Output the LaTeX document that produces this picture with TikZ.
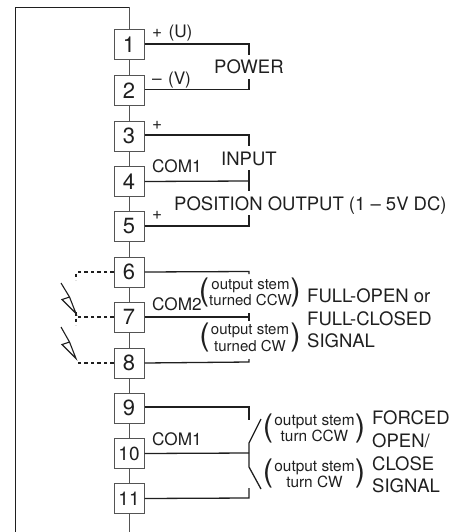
\documentclass[tikz,border=0pt]{standalone}
\usepackage{fontspec}
\setmainfont{TeX Gyre Heros}
\definecolor{boxc}{gray}{0.33}
\definecolor{wirec}{gray}{0.12}
\tikzset{
  x=1pt,y=-1pt,
  term/.style={draw=boxc,line width=1pt,fill=white,minimum width=30pt,minimum height=30pt,inner sep=0pt,font=\fontsize{22}{22}\selectfont,text=wirec},
  termsmall/.style={term,font=\fontsize{19}{19}\selectfont},
  rail/.style={draw=boxc,line width=1pt},
  wire/.style={draw=wirec,line width=1.3pt},
  dashwire/.style={draw=wirec,line width=1.3pt,dash pattern=on 3.5pt off 3pt},
  spark/.style={draw=wirec,line width=1.1pt,line join=miter},
  lab/.style={inner sep=0pt,text=wirec,font=\fontsize{17.2}{17.2}\selectfont,anchor=base west},
  big/.style={lab,font=\fontsize{18.5}{18.5}\selectfont},
  small/.style={inner sep=0pt,text=wirec,align=center,font=\fontsize{15}{16.5}\selectfont},
  smallb/.style={small,font=\fontsize{15.4}{16.5}\selectfont},
  paren/.style={inner sep=0pt,text=wirec,font=\fontsize{31}{31}\selectfont}
}
\begin{document}
\begin{tikzpicture}
\useasboundingbox (0,0) rectangle (459,532);
\coordinate (tl) at (15.5,7.5);
\coordinate (tr) at (129,7.5);
\coordinate (bl) at (15.5,532);
\coordinate (br) at (129,532);
\draw[draw=wirec,line width=.8pt] (bl) -- (tl) -- (tr);
\draw[rail] (tr) -- (br);
% terminals
\node[term] (t1) at (129,45) {1};
\node[term] (t2) at (129,90.5) {2};
\node[term] (t3) at (129,136) {3};
\node[term] (t4) at (129,181.5) {4};
\node[term] (t5) at (129,226.5) {5};
\node[term] (t6) at (129,272) {6};
\node[term] (t7) at (129,317) {7};
\node[term] (t8) at (129,363) {8};
\node[term] (t9) at (129,408) {9};
\node[termsmall] (t10) at (129,453.5) {10};
\node[termsmall] (t11) at (129,498.5) {11};
% power
\draw[wire] (t1.east) ++(0,-1) -- (249,44) -- (249,55);
\draw[wire] (t2.east) ++(0,-1) -- (249,89.5) -- (249,79);
% input / output
\draw[wire] (t3.east) ++(0,-1) -- (249,135) -- (249,146);
\draw[wire] (249,170) -- (249,191);
\draw[wire] (t4.east) -- (249,181);
\draw[wire] (t5.east) ++(0,-.5) -- (249,226) -- (249,215);
% full-open
\draw[wire] (t6.east) -- (249,271.5) -- (249,274);
\draw[wire] (t7.east) -- (249,317);
\draw[wire] (249,313) -- (249,321);
\draw[wire] (t8.east) -- (249,362) -- (249,359);
% forced
\draw[wire] (t9.east) ++(0,-1) -- (249,407) -- (249,420);
\draw[wire] (t10.east) -- (249,453);
\draw[wire] (261,419) -- (249,443) -- (249,467) -- (261,489);
\draw[wire] (t11.east) -- (249,498) -- (249,488);
% dashed contacts
\draw[dashwire] (t6.west) -- (76,272) -- (76,280);
\draw[dashwire] (t7.west) -- (76,317);
\draw[dashwire] (76,312) -- (76,325);
\draw[dashwire] (t8.west) -- (77,363);
% lightning
\draw[spark] (61,283) -- (69.5,297) -- (62,299.5) -- (76,313.5) -- (69.5,297);
\draw[spark] (61,327) -- (69.5,342) -- (62,344.5) -- (76,358.5) -- (69.5,342);
% labels
\node[lab] (a1) at (152,38) {+\hspace{1.5pt} (U)};
\node[lab] (a2) at (152,84.5) {–\hspace{1.5pt} (V)};
\node[big] (power) at (214,74) {POWER};
\node[lab] (a3) at (152,129) {+};
\node[lab] (a4) at (152,172.5) {COM1};
\node[big] (input) at (221,165) {INPUT};
\node[big] (posout) at (174,210) {POSITION OUTPUT (1 – 5V DC)};
\node[lab] (a5) at (152,219) {+};
\node[lab] (a7) at (152,310) {COM2};
\node[lab] (a10) at (152,445.5) {COM1};
% signal 1
\node[small] (s1) at (250.5,292.5) {output stem\\turned CCW};
\node[small] (s2) at (250,338) {output stem\\turned CW};
\node[paren] (p1) at (204,292.5) {(};
\node[paren] (p2) at (295.5,292.5) {)};
\node[paren] (p3) at (204.5,337) {(};
\node[paren] (p4) at (295.5,337) {)};
\node[big] (f1) at (307,302) {FULL-OPEN or};
\node[big] (f2) at (307,325) {FULL-CLOSED};
\node[big] (f3) at (307,347) {SIGNAL};
% signal 2
\node[smallb] (s3) at (314.5,428.5) {output stem\\turn CCW};
\node[smallb] (s4) at (314.5,474.5) {output stem\\turn CW};
\node[paren] (p5) at (268,428) {(};
\node[paren] (p6) at (360,428) {)};
\node[paren] (p7) at (268,473.5) {(};
\node[paren] (p8) at (360,473.5) {)};
\node[big] (g1) at (372,424) {FORCED};
\node[big] (g2) at (372,447) {OPEN/};
\node[big] (g3) at (372,470) {CLOSE};
\node[big] (g4) at (372,492) {SIGNAL};
\end{tikzpicture}
\end{document}
